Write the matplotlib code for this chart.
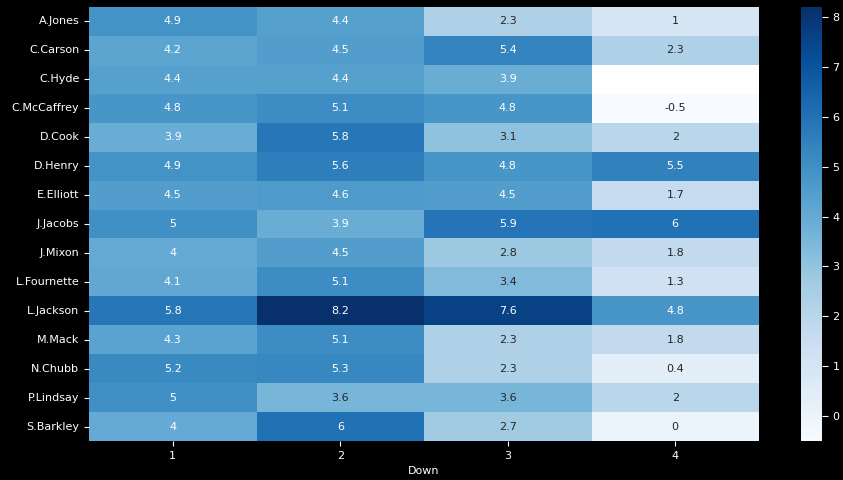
import numpy as np
import pandas as pd
import matplotlib

matplotlib.use("Agg")
import matplotlib.pyplot as plt  # noqa: E402
import seaborn as sns  # noqa: E402

players = ["A.Jones", "C.Carson", "C.Hyde", "C.McCaffrey", "D.Cook", "D.Henry",
           "E.Elliott", "J.Jacobs", "J.Mixon", "L.Fournette", "L.Jackson",
           "M.Mack", "N.Chubb", "P.Lindsay", "S.Barkley"]
downs = [1, 2, 3, 4]

down1 = [4.9, 4.2, 4.4, 4.8, 3.9, 4.9, 4.5, 5, 4, 4.1, 5.8, 4.3, 5.2, 5, 4]
down2 = [4.4, 4.5, 4.4, 5.1, 5.8, 5.6, 4.6, 3.9, 4.5, 5.1, 8.2, 5.1, 5.3, 3.6, 6]
down3 = [2.3, 5.4, 3.9, 4.8, 3.1, 4.8, 4.5, 5.9, 2.8, 3.4, 7.6, 2.3, 2.3, 3.6, 2.7]
down4 = [1, 2.3, np.nan, -0.5, 2, 5.5, 1.7, 6, 1.8, 1.3, 4.8, 1.8, 0.4, 2, 0]

df = pd.DataFrame({1: down1, 2: down2, 3: down3, 4: down4}, index=players)
df.columns.name = "Down"

plt.rcParams["font.size"] = 8

fig = plt.figure(figsize=(8.43, 4.8), dpi=100, facecolor="black")
ax = fig.add_axes([89 / 843, 1 - 441 / 480, 670 / 843, 434 / 480])
cax = fig.add_axes([801 / 843, 1 - 441 / 480, 21 / 843, 434 / 480])

sns.heatmap(df, cmap="Blues", annot=True, annot_kws={"fontsize": 8},
            ax=ax, cbar_ax=cax)
ax.set_facecolor("white")

for a in (ax, cax):
    a.tick_params(colors="white", labelcolor="white", labelsize=8)
ax.xaxis.label.set_color("white")
ax.xaxis.label.set_fontsize(8)
ax.set_ylabel("")
ax.tick_params(axis="y", rotation=0)
cax.tick_params(length=4)
for sp in cax.spines.values():
    sp.set_visible(False)

fig.savefig("out.png", dpi=100, facecolor="black")
